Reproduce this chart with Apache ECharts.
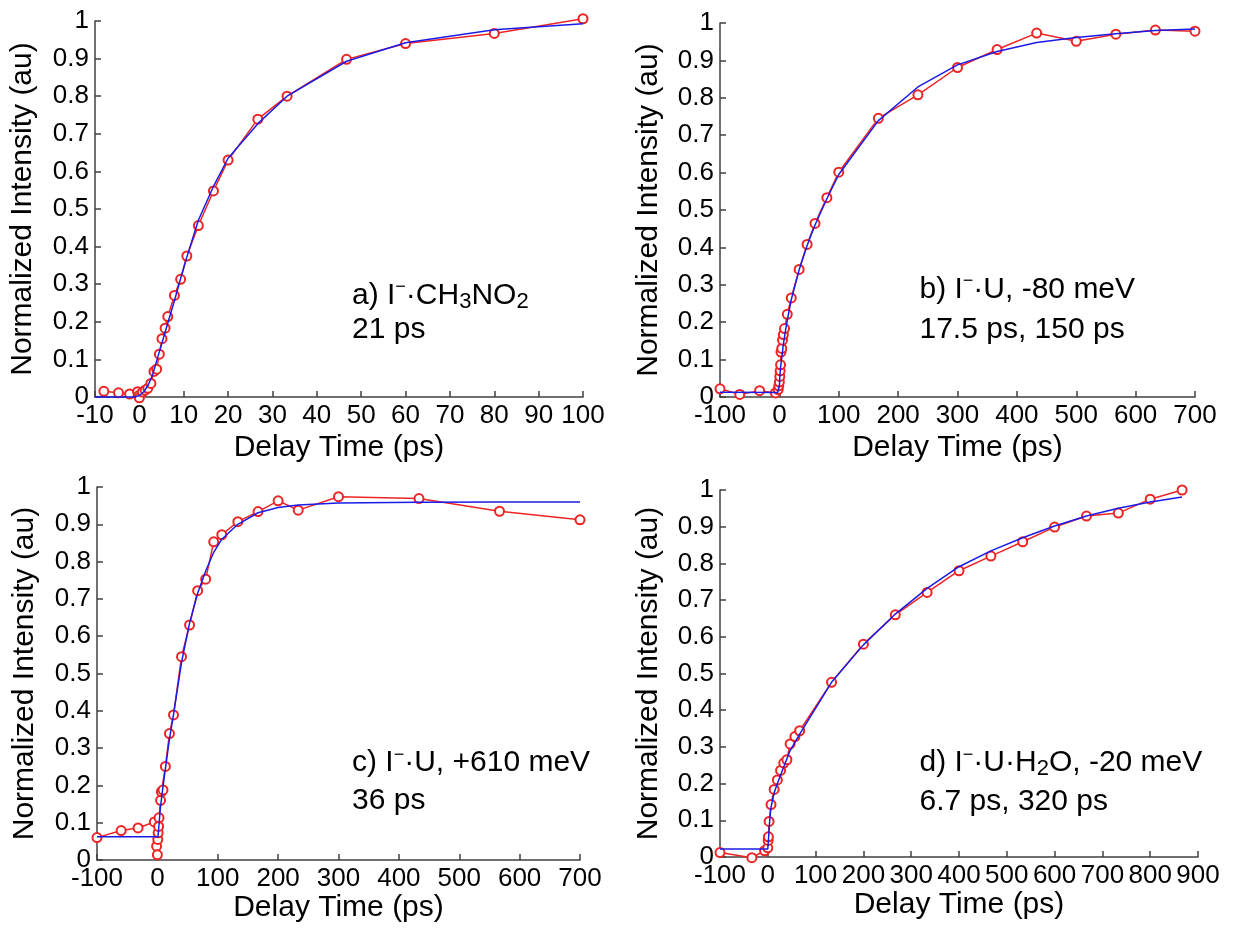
<!DOCTYPE html>
<html>
<head>
<meta charset="utf-8">
<script src="https://cdn.jsdelivr.net/npm/echarts@6/dist/echarts.min.js"></script>
<style>
  html, body { margin: 0; padding: 0; background: #fff; }
  #myChart { width: 1249px; height: 928px; }
</style>
</head>
<body>
<div id="myChart"></div>
<script>
// a) I-·CH3NO2, 21 ps
const aDelay = [-8, -4.7, -2.2, -0.4, -0.2, 0, 0.7, 1.3, 1.9, 2.6, 3.3, 3.9, 4.5, 5.1, 5.8, 6.4, 7.9, 9.3, 10.7, 13.3, 16.7, 20, 26.7, 33.3, 46.7, 60, 80, 100];
const aSignal = [0.015, 0.011, 0.008, 0.014, 0.003, -0.002, 0.013, 0.018, 0.023, 0.036, 0.068, 0.074, 0.114, 0.155, 0.183, 0.214, 0.27, 0.313, 0.375, 0.456, 0.548, 0.63, 0.739, 0.8, 0.898, 0.94, 0.967, 1.006];
const aFitDelay = [-10, -1, 0, 1, 2, 3, 4, 5, 6, 7, 8, 9.3, 10.7, 13.3, 16.7, 20, 26.7, 33.3, 46.7, 60, 80, 100];
const aFit = [0, 0, 0.004, 0.014, 0.032, 0.06, 0.1, 0.14, 0.18, 0.22, 0.26, 0.315, 0.372, 0.47, 0.56, 0.635, 0.727, 0.8, 0.893, 0.942, 0.977, 0.993];

// b) I-·U, -80 meV
const bDelay = [-100, -66.7, -33.3, -6.7, -2, -1, 0, 0.7, 1.3, 2, 2.7, 4, 5.3, 6.7, 8.7, 13.3, 20, 33.3, 46.7, 60, 80, 100, 166.7, 233.3, 300, 366.7, 433.3, 500, 566.7, 633.3, 700];
const bSignal = [0.022, 0.007, 0.017, 0.011, 0.02, 0.03, 0.04, 0.055, 0.07, 0.086, 0.12, 0.13, 0.152, 0.167, 0.183, 0.221, 0.265, 0.341, 0.408, 0.464, 0.533, 0.601, 0.745, 0.808, 0.881, 0.929, 0.973, 0.951, 0.97, 0.981, 0.978];
const bFitDelay = [-100, -3, 0, 1, 2, 4, 6.7, 10, 13.3, 20, 33.3, 46.7, 60, 80, 100, 166.7, 233.3, 300, 366.7, 433.3, 500, 566.7, 633.3, 700];
const bFit = [0.013, 0.012, 0.03, 0.06, 0.08, 0.105, 0.14, 0.175, 0.205, 0.26, 0.34, 0.405, 0.46, 0.53, 0.595, 0.739, 0.829, 0.888, 0.924, 0.948, 0.961, 0.971, 0.98, 0.984];

// c) I-·U, +610 meV
const cDelay = [-100, -60, -32, -5, -1.3, 0, 0.7, 1.3, 2, 2.7, 5.3, 6.7, 9.3, 13.3, 20, 26.7, 40, 53.3, 66.7, 80, 93.3, 106.7, 133.3, 166.7, 200, 233.3, 300, 433.3, 566.7, 700];
const cSignal = [0.06, 0.079, 0.086, 0.102, 0.037, 0.014, 0.055, 0.073, 0.09, 0.113, 0.16, 0.183, 0.188, 0.251, 0.339, 0.389, 0.545, 0.63, 0.722, 0.753, 0.853, 0.872, 0.907, 0.934, 0.963, 0.938, 0.974, 0.969, 0.935, 0.912];
const cFitDelay = [-100, 1, 3, 5, 8, 13.3, 20, 26.7, 40, 53.3, 66.7, 80, 93.3, 106.7, 133.3, 166.7, 200, 233.3, 300, 433.3, 566.7, 700];
const cFit = [0.062, 0.062, 0.1, 0.14, 0.18, 0.245, 0.325, 0.39, 0.53, 0.635, 0.715, 0.775, 0.825, 0.86, 0.9, 0.931, 0.945, 0.952, 0.957, 0.959, 0.96, 0.96];

// d) I-·U·H2O, -20 meV
const dDelay = [-100, -33.3, -6.7, 0, 0.7, 1.3, 2.7, 6.7, 13.3, 20, 26.7, 33.3, 40, 46.7, 56.7, 66.7, 133.3, 200, 266.7, 333.3, 400, 466.7, 533.3, 600, 666.7, 733.3, 800, 866.7];
const dSignal = [0.012, -0.002, 0.017, 0.025, 0.045, 0.055, 0.097, 0.143, 0.184, 0.21, 0.236, 0.256, 0.265, 0.308, 0.328, 0.344, 0.476, 0.58, 0.66, 0.721, 0.78, 0.82, 0.859, 0.899, 0.929, 0.937, 0.975, 1.0];
const dFitDelay = [-100, 0, 2, 4, 6.7, 13.3, 20, 33.3, 46.7, 66.7, 133.3, 200, 266.7, 333.3, 400, 466.7, 533.3, 600, 666.7, 733.3, 800, 866.7];
const dFit = [0.022, 0.022, 0.06, 0.1, 0.135, 0.175, 0.2, 0.245, 0.29, 0.335, 0.476, 0.578, 0.662, 0.732, 0.791, 0.834, 0.87, 0.902, 0.929, 0.95, 0.967, 0.981];

// axis ranges per panel: [min, max, interval]
const xRanges = [[-10, 100, 10], [-100, 700, 100], [-100, 700, 100], [-100, 900, 100]];
const yRange = [0, 1, 0.1];

const FONT = '"Liberation Sans", Arial, sans-serif';
const AXIS = '#404040';
const RED = '#ec2424';
const BLUE = '#1b1be8';

const zip = (xs, ys) => xs.map((x, i) => [x, ys[i]]);

let myChart = echarts.init(document.getElementById('myChart'), null, { renderer: 'canvas' });

let grids = [
    { left: 95, top: 21, width: 488, height: 376 },
    { left: 720, top: 23, width: 475, height: 374 },
    { left: 97, top: 487, width: 483, height: 373 },
    { left: 720, top: 490, width: 478, height: 367 }
];
let xNameGap = [36, 36, 33, 33];
let yNameGap = [57, 56, 57, 56];

let axisLine = { onZero: false, lineStyle: { color: AXIS, width: 1.5 } };
let axisTick = { inside: true, length: 6, lineStyle: { color: AXIS, width: 1.5 } };
let labelStyle = { color: '#000', fontSize: 26, fontFamily: FONT, margin: 6 };
let nameStyle = { color: '#000', fontSize: 30, fontFamily: FONT };

let xAxis = xRanges.map((r, i) => ({
    gridIndex: i,
    type: 'value',
    min: r[0],
    max: r[1],
    interval: r[2],
    name: 'Delay Time (ps)',
    nameLocation: 'middle',
    nameGap: xNameGap[i],
    nameTextStyle: nameStyle,
    axisLine: axisLine,
    axisTick: axisTick,
    axisLabel: labelStyle,
    splitLine: { show: false }
}));

let yAxis = grids.map((g, i) => ({
    gridIndex: i,
    type: 'value',
    min: yRange[0],
    max: yRange[1],
    interval: yRange[2],
    name: 'Normalized Intensity (au)',
    nameLocation: 'middle',
    nameGap: yNameGap[i],
    nameTextStyle: nameStyle,
    axisLine: axisLine,
    axisTick: axisTick,
    axisLabel: labelStyle,
    splitLine: { show: false }
}));

let panels = [
    [aDelay, aSignal, aFitDelay, aFit],
    [bDelay, bSignal, bFitDelay, bFit],
    [cDelay, cSignal, cFitDelay, cFit],
    [dDelay, dSignal, dFitDelay, dFit]
];

let series = [];
panels.forEach((p, i) => {
    series.push({   // measured points
        type: 'line',
        xAxisIndex: i,
        yAxisIndex: i,
        data: zip(p[0], p[1]),
        symbol: 'emptyCircle',
        symbolSize: 9,
        clip: false,
        z: 2,
        lineStyle: { color: RED, width: 1.5 },
        itemStyle: { color: RED, borderColor: RED, borderWidth: 1.4 }
    });
    series.push({   // fit
        type: 'line',
        xAxisIndex: i,
        yAxisIndex: i,
        data: zip(p[2], p[3]),
        symbol: 'none',
        clip: false,
        z: 3,
        lineStyle: { color: BLUE, width: 1.5 }
    });
});

// panel labels, one title per text line
let rich = {
    sup: { fontSize: 18, lineHeight: 12, verticalAlign: 'top', fontFamily: FONT, color: '#000' },
    sub: { fontSize: 22, lineHeight: 24, verticalAlign: 'bottom', fontFamily: FONT, color: '#000' }
};
let labelText = [
    ['a) I{sup|\u2212}\u00b7CH{sub|3}NO{sub|2}', 352, 278.5],
    ['21 ps', 352, 313.2],
    ['b) I{sup|\u2212}\u00b7U, -80 meV', 919.5, 272.5],
    ['17.5 ps, 150 ps', 919.5, 313.2],
    ['c) I{sup|\u2212}\u00b7U, +610 meV', 352, 745.8],
    ['36 ps', 352, 784.2],
    ['d) I{sup|\u2212}\u00b7U\u00b7H{sub|2}O, -20 meV', 919.5, 745.8],
    ['6.7 ps, 320 ps', 919.5, 785.2]
];
let title = labelText.map(t => ({
    text: t[0],
    left: t[1],
    top: t[2],
    padding: 0,
    textStyle: { color: '#000', fontSize: 30, lineHeight: 34, fontWeight: 'normal', fontFamily: FONT, rich: rich }
}));

let option = {
    backgroundColor: '#fff',
    animation: false,
    title: title,
    grid: grids,
    xAxis: xAxis,
    yAxis: yAxis,
    series: series
};
myChart.setOption(option);
</script>
</body>
</html>
